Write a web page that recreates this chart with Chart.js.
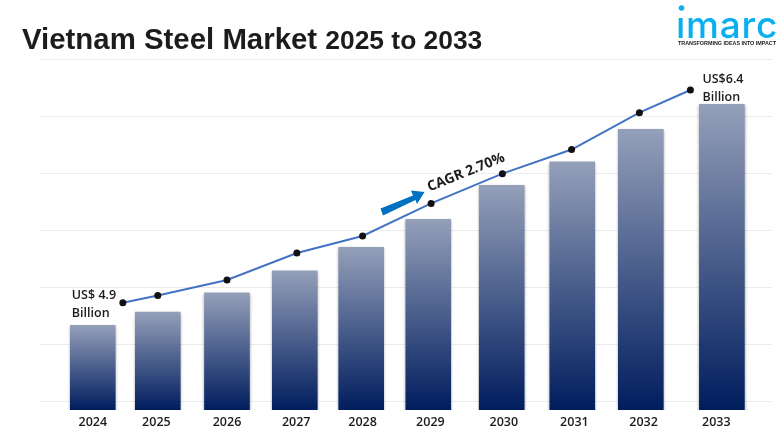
<!DOCTYPE html>
<html lang="en">

<head>
    <meta charset="UTF-8">
    <title>Vietnam Steel Market 2025 to 2033</title>
    <script src="https://cdn.jsdelivr.net/npm/chart.js"></script>
    <style>
        html, body {
            margin: 0;
            background: #fff;
        }
        #wrap {
            position: relative;
            width: 780px;
            height: 440px;
            overflow: hidden;
        }
        #myChart {
            position: absolute;
            left: 0;
            top: 0;
        }
        #title {
            position: absolute;
            left: 22px;
            top: 22px;
            font: bold 29.4px "Liberation Sans", sans-serif;
            line-height: 34px;
            color: #1c1c1c;
            white-space: nowrap;
        }
        #title span {
            font-size: 26.4px;
        }
    </style>
</head>

<body>
    <div id="wrap">
        <canvas id="myChart" width="780" height="440"></canvas>
        <div id="title">Vietnam Steel Market <span>2025 to 2033</span></div>
    </div>

    <script>
        // the original is not drawn evenly, so years carry fractions
        const yearLabels = ['2024', '2025', '2026', '2027', '2028', '2029', '2030', '2031', '2032', '2033'];
        const tickYears = [2024, 2024.91, 2025.92, 2026.91, 2027.86, 2028.83, 2029.88, 2030.89, 2031.88, 2032.92];
        const barYears = [2024, 2024.93, 2025.92, 2026.89, 2027.84, 2028.80, 2029.85, 2030.86, 2031.84, 2033];
        const barValues = [4.90, 4.99, 5.12, 5.27, 5.43, 5.62, 5.85, 6.01, 6.23, 6.40];
        const lineYears = [2024.43, 2024.93, 2025.92, 2026.92, 2027.86, 2028.84, 2029.86, 2030.85, 2031.82, 2032.55];
        const lineValues = [4.90, 4.95, 5.06, 5.25, 5.37, 5.60, 5.81, 5.98, 6.24, 6.40];
        const gridValues = [4.383, 4.770, 5.157, 5.544, 5.931, 6.318, 6.705];

        function barGradient(c) {
            const area = c.chart.chartArea;
            if (!area) return '#001f5f';
            const top = c.chart.scales.y.getPixelForValue(barValues[c.dataIndex]);
            const g = c.chart.ctx.createLinearGradient(0, top, 0, area.bottom);
            g.addColorStop(0, '#949fb9');
            g.addColorStop(1, '#001d5e');
            return g;
        }

        // labels, arrow and logo
        const overlay = {
            id: 'overlay',
            beforeDatasetDraw(chart, args) {
                if (args.index === 0) {
                    const ctx = chart.ctx;
                    ctx.save();
                    ctx.shadowColor = 'rgba(0,0,0,0.4)';
                    ctx.shadowBlur = 3;
                    ctx.shadowOffsetY = 1;
                }
            },
            afterDatasetDraw(chart, args) {
                if (args.index === 0) chart.ctx.restore();
            },
            afterDraw(chart) {
                const ctx = chart.ctx;
                const pts = chart.getDatasetMeta(1).data;
                ctx.save();
                ctx.fillStyle = '#1c1c1c';
                ctx.textBaseline = 'middle';
                ctx.font = '600 12.5px "Open Sans"';
                ctx.textAlign = 'left';
                ctx.fillText('US$ 4.9', pts[0].x - 51, 295.5);
                ctx.fillText('Billion', pts[0].x - 51, 313);
                ctx.fillText('US$6.4', pts[9].x + 12, 79);
                ctx.fillText('Billion', pts[9].x + 12, 97);

                // CAGR text sits along the line
                ctx.save();
                ctx.translate(466, 172.5);
                ctx.rotate(-22 * Math.PI / 180);
                ctx.textAlign = 'center';
                ctx.font = 'bold 14px "Open Sans"';
                ctx.fillText('CAGR 2.70%', 0, 0);
                ctx.restore();

                ctx.fillStyle = '#0070c0';
                ctx.beginPath();
                ctx.moveTo(380.5, 208.5);
                ctx.lineTo(413, 195.5);
                ctx.lineTo(411, 190.5);
                ctx.lineTo(424.5, 192);
                ctx.lineTo(417, 204);
                ctx.lineTo(415.5, 200);
                ctx.lineTo(383, 215.5);
                ctx.closePath();
                ctx.fill();

                ctx.fillStyle = '#0aaff0';
                ctx.beginPath();
                ctx.arc(681.5, 8, 2.8, 0, Math.PI * 2);
                ctx.fill();
                ctx.font = '500 37px Inter';
                ctx.letterSpacing = '0.8px';
                ctx.textBaseline = 'alphabetic';
                ctx.fillText('\u0131marc', 676, 37.5);
                ctx.letterSpacing = '0px';
                ctx.fillStyle = '#222';
                ctx.font = 'bold 5.4px "Liberation Sans"';
                ctx.fillText('TRANSFORMING IDEAS INTO IMPACT', 678, 45.2);
                ctx.restore();
            }
        };

        new Chart(document.getElementById('myChart').getContext('2d'), {
            type: 'bar',
            data: {
                datasets: [
                    {
                        type: 'bar',
                        data: barYears.map((x, i) => ({ x: x, y: barValues[i] })),
                        backgroundColor: barGradient,
                        barThickness: 45,
                        order: 2,
                        yAxisID: 'y'
                    },
                    {
                        type: 'line',
                        data: lineYears.map((x, i) => ({ x: x, y: lineValues[i] })),
                        borderColor: '#4472c4',
                        borderWidth: 2,
                        pointRadius: 3.5,
                        pointBackgroundColor: '#111',
                        pointBorderColor: '#111',
                        pointBorderWidth: 0,
                        tension: 0,
                        order: 1,
                        yAxisID: 'y2'
                    }
                ]
            },
            options: {
                responsive: false,
                animation: false,
                layout: { padding: { left: 40, right: 8, top: 59.5, bottom: 0 } },
                plugins: {
                    legend: { display: false },
                    title: { display: false },
                    tooltip: { enabled: false }
                },
                scales: {
                    x: {
                        type: 'linear',
                        offset: false,
                        min: 2023.245,
                        max: 2033.717,
                        grid: { display: false, drawTicks: false },
                        border: { display: false },
                        afterBuildTicks: s => { s.ticks = tickYears.map(v => ({ value: v })); },
                        afterFit: s => { s.height = 30; },
                        ticks: {
                            autoSkip: false,
                            maxRotation: 0,
                            padding: 5,
                            color: '#1c1c1c',
                            font: { family: 'Open Sans', size: 12.5, weight: '600' },
                            callback: (v, i) => yearLabels[i]
                        }
                    },
                    y: {
                        min: 4.325,
                        max: 6.705,
                        border: { display: false },
                        grid: { color: '#ebebeb', lineWidth: 1, drawTicks: false },
                        afterBuildTicks: s => { s.ticks = gridValues.map(v => ({ value: v })); },
                        afterFit: s => { s.width = 0; },
                        ticks: { display: false }
                    },
                    y2: {
                        display: false,
                        min: 4.143,
                        max: 6.615
                    }
                }
            },
            plugins: [overlay]
        });
    </script>
</body>

</html>
